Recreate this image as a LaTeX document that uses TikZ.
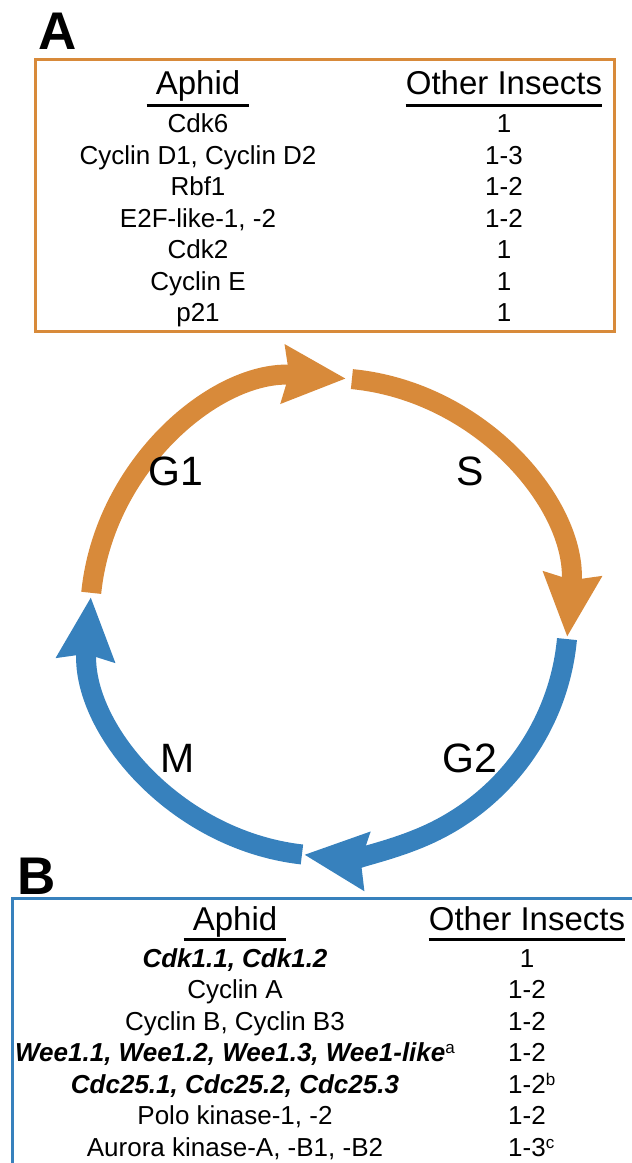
\documentclass[tikz,border=0pt]{standalone}
\usepackage{fontspec}
\setmainfont{Liberation Sans}
\usetikzlibrary{arrows.meta}

\definecolor{orng}{RGB}{216,138,58}
\definecolor{blu}{RGB}{55,129,189}

\newcommand{\footmark}[1]{\raisebox{8pt}{\normalfont\fontsize{17}{17}\selectfont #1}}

\begin{document}
\begin{tikzpicture}[x=1pt, y=1pt,
    panel/.style={font=\fontsize{53}{53}\selectfont\bfseries},
    hdr/.style={anchor=base, inner sep=0pt, font=\fontsize{33}{33}\selectfont},
    row/.style={anchor=base, inner sep=0pt, font=\fontsize{26}{26}\selectfont},
    ul/.style={line width=3pt, black},
    phase/.style={line width=20pt, -{Stealth[length=62pt, width=56pt, inset=5pt]}},
    lbl/.style={font=\fontsize{41}{41}\selectfont}]

    % Page
    \def\cx{329}   % centre of the cycle
    \def\cy{546}
    \def\r{239}
    \def\dy{31.5}  % row step
    \def\ya{1030}  % first row, panel A
    \def\yb{195.5} % first row, panel B

    \useasboundingbox (0,0) rectangle (632,1163);
    \clip (0,0) rectangle (632,1163);

    % Panel A
    \node[panel] (A) at (58,1132) {A};
    \draw[orng, line width=3pt] (35.5,831) rectangle (614,1103);
    \node[hdr, inner xsep=9pt] (ha1) at (198,1068) {Aphid};
    \node[hdr] (ha2) at (504,1068) {Other Insects};
    \draw[ul] ([yshift=-11pt]ha1.base west) -- ([yshift=-11pt]ha1.base east);
    \draw[ul] ([yshift=-11pt]ha2.base west) -- ([yshift=-11pt]ha2.base east);
    \foreach \txt/\num [count=\i] in {Cdk6/1, {Cyclin D1, Cyclin D2}/1-3, Rbf1/1-2,
        {E2F-like-1, -2}/1-2, Cdk2/1, Cyclin E/1, p21/1}{
        \node[row] (a\i) at (198,{\ya-(\i-1)*\dy}) {\txt};
        \node[row] (ao\i) at (504,{\ya-(\i-1)*\dy}) {\num};
    }

    % Cycle
    \foreach \a/\b/\c in {174.2/85.9/orng, 84.5/-4.8/orng, -5.3/-96/blu, 263.5/175.2/blu}{
        \draw[phase, \c] ({\cx+\r*cos(\a)},{\cy+\r*sin(\a)}) arc[start angle=\a, end angle=\b, radius=\r];
    }
    \node[lbl] (g1) at (176,692) {G1};
    \node[lbl] (s)  at (470,692) {S};
    \node[lbl] (g2) at (470,405) {G2};
    \node[lbl] (m)  at (178,405) {M};

    % Panel B
    \node[panel] (B) at (37,287) {B};
    \draw[blu, line width=3pt] (12,-10) rectangle (650,264);
    \node[hdr, inner xsep=9pt] (hb1) at (235,232) {Aphid};
    \node[hdr] (hb2) at (527,232) {Other Insects};
    \draw[ul] ([yshift=-9pt]hb1.base west) -- ([yshift=-9pt]hb1.base east);
    \draw[ul] ([yshift=-9pt]hb2.base west) -- ([yshift=-9pt]hb2.base east);
    \foreach \txt/\num [count=\i] in {{\bfseries\itshape Cdk1.1, Cdk1.2}/1, Cyclin A/1-2,
        {Cyclin B, Cyclin B3}/1-2,
        {\bfseries\itshape Wee1.1, Wee1.2, Wee1.3, Wee1-like\footmark{a}}/1-2,
        {\bfseries\itshape Cdc25.1, Cdc25.2, Cdc25.3}/1-2\rlap{\footmark{b}},
        {Polo kinase-1, -2}/1-2, {Aurora kinase-A, -B1, -B2}/1-3\rlap{\footmark{c}}}{
        \node[row] (b\i) at (235,{\yb-(\i-1)*\dy}) {\txt};
        \node[row] (bo\i) at (527,{\yb-(\i-1)*\dy}) {\num};
    }

\end{tikzpicture}
\end{document}
